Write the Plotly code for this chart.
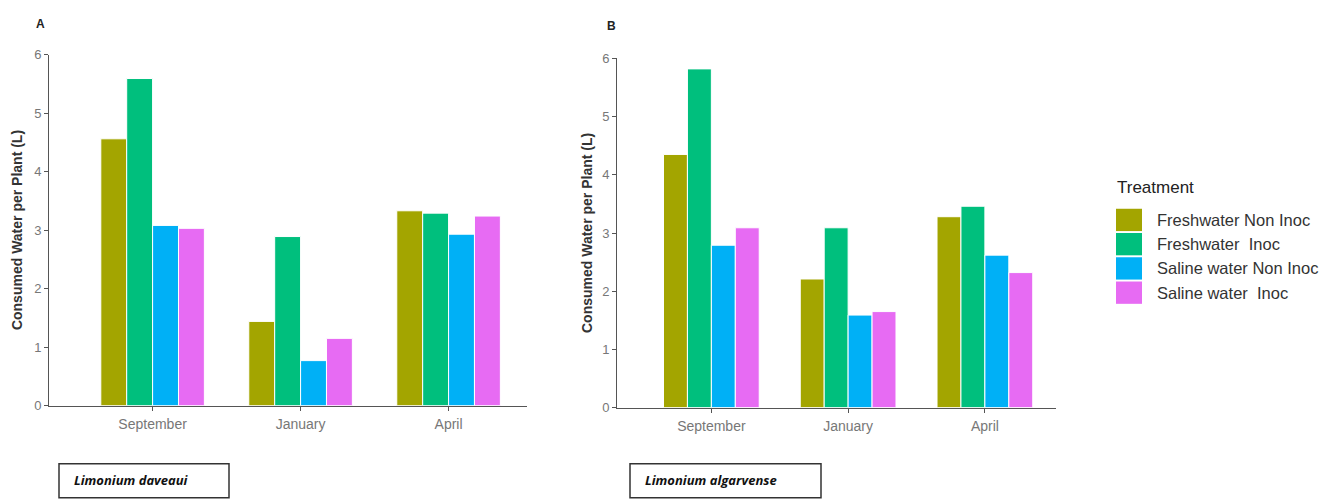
import plotly.graph_objects as go

W, H = 1338, 500

months = ["September", "January", "April"]
treatments = ["Freshwater Non Inoc", "Freshwater  Inoc", "Saline water Non Inoc", "Saline water  Inoc"]
colors = ["#A3A500", "#00BF7D", "#00B0F6", "#E76BF3"]

# Panel A: Limonium daveaui
a_fresh_non = [4.56, 1.44, 3.33]
a_fresh_inoc = [5.59, 2.89, 3.29]
a_saline_non = [3.08, 0.77, 2.93]
a_saline_inoc = [3.03, 1.15, 3.24]

# Panel B: Limonium algarvense
b_fresh_non = [4.35, 2.21, 3.28]
b_fresh_inoc = [5.82, 3.09, 3.46]
b_saline_non = [2.79, 1.59, 2.62]
b_saline_inoc = [3.09, 1.65, 2.32]

y_ticks = [0, 1, 2, 3, 4, 5, 6]
y_title = "Consumed Water per Plant (L)"
species = ["Limonium daveaui", "Limonium algarvense"]
panel_labels = ["A", "B"]
legend_title = "Treatment"

panel_a = [a_fresh_non, a_fresh_inoc, a_saline_non, a_saline_inoc]
panel_b = [b_fresh_non, b_fresh_inoc, b_saline_non, b_saline_inoc]

fig = go.Figure()

for vals, name, col in zip(panel_a, treatments, colors):
    fig.add_trace(go.Bar(x=months, y=vals, name=name, marker=dict(color=col, line=dict(color="white", width=1)),
                         xaxis="x", yaxis="y", showlegend=False, offsetgroup=name))
for vals, name, col in zip(panel_b, treatments, colors):
    fig.add_trace(go.Bar(x=months, y=vals, name=name, marker=dict(color=col, line=dict(color="white", width=1)),
                         xaxis="x2", yaxis="y2", showlegend=False, offsetgroup=name))

def px(x):
    return x / W

def py(y):
    return 1 - y / H

axis_common = dict(showline=True, linecolor="#555555", linewidth=1, ticks="outside", ticklen=4,
                   tickcolor="#555555", showgrid=False, zeroline=False)
xfont = dict(family="Liberation Sans, Arial", size=14, color="#777777")
yfont = dict(family="Liberation Sans, Arial", size=13, color="#777777")

fig.update_layout(
    width=W, height=H, margin=dict(l=0, r=0, t=0, b=0),
    paper_bgcolor="white", plot_bgcolor="white",
    barmode="group", bargap=0.30, bargroupgap=0,
    xaxis=dict(domain=[px(49), px(527)], anchor="y", range=[-0.70, 2.53], ticklabelstandoff=2,
               tickfont=xfont, **axis_common),
    yaxis=dict(domain=[py(411), py(49)], anchor="x", range=[0, 6], tickvals=y_ticks,
               tickfont=yfont, **axis_common),
    xaxis2=dict(domain=[px(617), px(1056)], anchor="y2", range=[-0.69, 2.52], ticklabelstandoff=2,
                tickfont=xfont, **axis_common),
    yaxis2=dict(domain=[py(413), py(53)], anchor="x2", range=[0, 6], tickvals=y_ticks,
                tickfont=yfont, **axis_common),
)

annotations = []
shapes = []

# y-axis titles
for xc, yc in [(17, 230), (587, 233)]:
    annotations.append(dict(text="<b>" + y_title + "</b>", x=px(xc), y=py(yc), xref="paper", yref="paper",
                            showarrow=False, textangle=-90, xanchor="center", yanchor="middle",
                            font=dict(family="Liberation Sans, Arial", size=14, color="#333333")))

# panel labels
for lab, (xc, yc) in zip(panel_labels, [(40, 18), (611, 20)]):
    annotations.append(dict(text="<b>" + lab + "</b>", x=px(xc), y=py(yc), xref="paper", yref="paper",
                            showarrow=False, xanchor="center", yanchor="middle",
                            font=dict(family="Liberation Sans, Arial", size=12, color="#222222")))

# species boxes
for sp, (x0, x1) in zip(species, [(59, 229), (630, 821)]):
    shapes.append(dict(type="rect", xref="paper", yref="paper", x0=px(x0), x1=px(x1), y0=py(506), y1=py(471),
                       line=dict(color="#333333", width=1.5), fillcolor="rgba(0,0,0,0)"))
    annotations.append(dict(text="<b><i>" + sp + "</i></b>", x=px(x0 + 13), y=py(488), xref="paper", yref="paper",
                            showarrow=False, xanchor="left", yanchor="middle",
                            font=dict(family="Open Sans", size=13, color="#111111")))

# manual legend
annotations.append(dict(text=legend_title, x=px(1115), y=py(186), xref="paper", yref="paper",
                        showarrow=False, xanchor="left", yanchor="middle",
                        font=dict(family="Liberation Sans, Arial", size=17, color="#222222")))
for i, (name, col) in enumerate(zip(treatments, colors)):
    top = 208 + 25 * i
    shapes.append(dict(type="rect", xref="paper", yref="paper", x0=px(1116), x1=px(1142),
                       y0=py(top + 23), y1=py(top), line=dict(width=0), fillcolor=col))
    annotations.append(dict(text=name.replace("  ", "&nbsp; "), x=px(1155), y=py(top + 11.5), xref="paper", yref="paper",
                            showarrow=False, xanchor="left", yanchor="middle",
                            font=dict(family="Liberation Sans, Arial", size=16.5, color="#333333")))

fig.update_layout(annotations=annotations, shapes=shapes)

fig.write_html("out.html")
